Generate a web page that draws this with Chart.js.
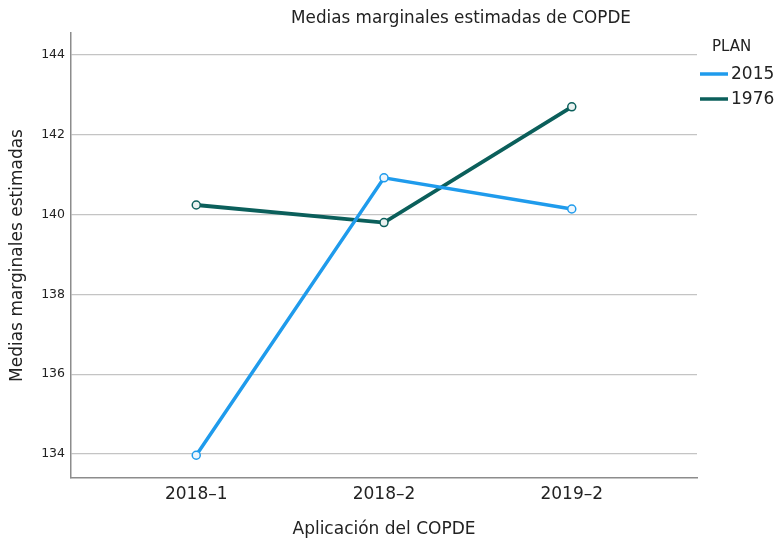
<!DOCTYPE html>
<html>
<head>
<meta charset="utf-8">
<script src="https://cdn.jsdelivr.net/npm/chart.js@4"></script>
<style>
  html, body { margin: 0; padding: 0; background: #fff; }
  #wrap { width: 778px; height: 543px; }
</style>
</head>
<body>
<div id="wrap"><canvas id="chart" width="778" height="543"></canvas></div>
<script>
const categories = ['2018\u20131', '2018\u20132', '2019\u20132'];
const plan2015 = [133.97, 140.92, 140.14];
const plan1976 = [140.24, 139.80, 142.70];
const yTicks = [134, 136, 138, 140, 142, 144];

const BLUE = '#1f9bec';
const TEAL = '#0b5f5b';
const FONT = "'DejaVu Sans', sans-serif";

function toPoints(values) {
    return values.map((v, i) => ({ x: i, y: v }));
}

// title + legend drawn on the canvas, as SPSS places them
const extras = {
    id: 'extras',
    afterDraw(chart) {
        const ctx = chart.ctx;
        ctx.save();
        ctx.fillStyle = '#222';
        ctx.textBaseline = 'middle';
        ctx.textAlign = 'center';
        ctx.font = "16.8px " + FONT;
        ctx.fillText('Medias marginales estimadas de COPDE', 461, 19);

        ctx.textAlign = 'left';
        ctx.font = "15px " + FONT;
        ctx.fillText('PLAN', 712, 47);
        ctx.font = "17px " + FONT;
        chart.data.datasets.forEach((ds, i) => {
            const y = 74 + i * 25;
            ctx.strokeStyle = ds.borderColor;
            ctx.lineWidth = 3.5;
            ctx.beginPath();
            ctx.moveTo(700, y);
            ctx.lineTo(728, y);
            ctx.stroke();
            ctx.fillText(ds.label, 731, y + 1);
        });
        ctx.restore();
    }
};

const ctx = document.getElementById('chart').getContext('2d');
new Chart(ctx, {
    type: 'line',
    data: {
        datasets: [{
            label: '2015',
            data: toPoints(plan2015),
            borderColor: BLUE,
            backgroundColor: '#ffffff',
            borderWidth: 3.5,
            pointRadius: 4,
            pointBorderWidth: 1.5,
            pointBorderColor: BLUE,
            pointBackgroundColor: '#eef6fd',
            tension: 0
        }, {
            label: '1976',
            data: toPoints(plan1976),
            borderColor: TEAL,
            backgroundColor: '#ffffff',
            borderWidth: 3.8,
            pointRadius: 4,
            pointBorderWidth: 1.5,
            pointBorderColor: TEAL,
            pointBackgroundColor: '#eaf2f1',
            tension: 0
        }]
    },
    options: {
        responsive: false,
        animation: false,
        layout: { padding: { left: 0, right: 81, top: 33, bottom: 0 } },
        plugins: {
            legend: { display: false },
            title: { display: false },
            tooltip: { enabled: false }
        },
        scales: {
            x: {
                type: 'linear',
                min: -0.667,
                max: 2.667,
                afterBuildTicks: (scale) => { scale.ticks = categories.map((c, i) => ({ value: i })); },
                afterFit: (scale) => { scale.height = 65; },
                grid: { display: false, drawTicks: false },
                border: { display: true, color: '#8c8c8c', width: 1.5 },
                ticks: {
                    padding: 6,
                    color: '#222',
                    font: { family: FONT, size: 17 },
                    callback: (v) => categories[v]
                },
                title: {
                    display: true,
                    text: 'Aplicación del COPDE',
                    color: '#222',
                    font: { family: FONT, size: 17 },
                    padding: { top: 0, bottom: 3 }
                }
            },
            y: {
                min: 133.40,
                max: 144.55,
                afterBuildTicks: (scale) => { scale.ticks = yTicks.map(v => ({ value: v })); },
                afterFit: (scale) => { scale.width = 71; },
                grid: { color: '#c4c4c4', lineWidth: 1.2, drawTicks: false },
                border: { display: true, color: '#8c8c8c', width: 1.5 },
                ticks: {
                    padding: 6,
                    color: '#222',
                    font: { family: FONT, size: 12.5 }
                },
                title: {
                    display: true,
                    text: 'Medias marginales estimadas',
                    color: '#222',
                    font: { family: FONT, size: 17 },
                    padding: { top: 7, bottom: 0 }
                }
            }
        }
    },
    plugins: [extras]
});
</script>
</body>
</html>
